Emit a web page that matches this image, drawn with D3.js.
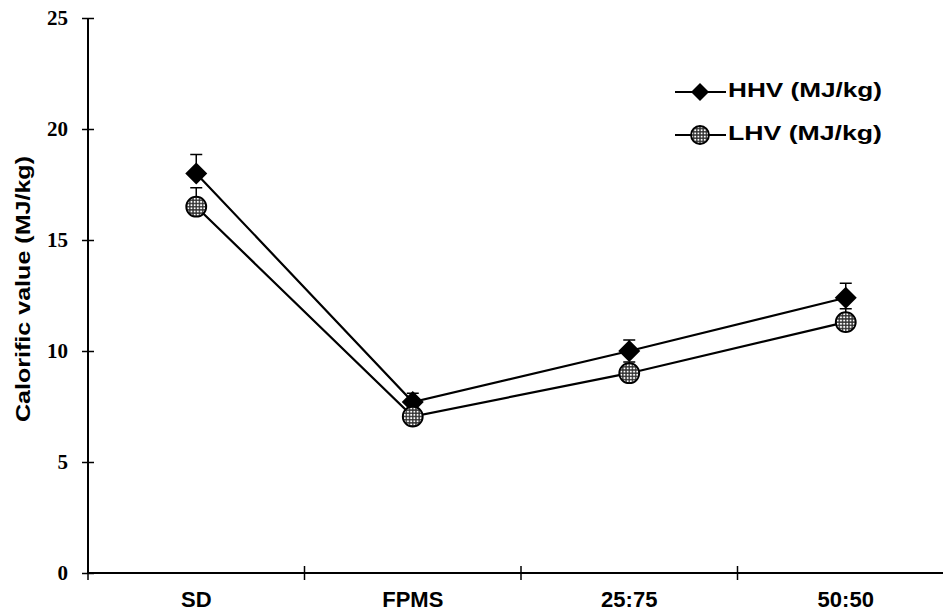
<!DOCTYPE html>
<html>
<head>
<meta charset="utf-8">
<script src="https://cdn.jsdelivr.net/npm/d3@7"></script>
<style>
  body { margin: 0; background: #fff; }
  svg { display: block; }
</style>
</head>
<body>
<svg id="chart"></svg>
<script>
// chart values
var categories = ["SD", "FPMS", "25:75", "50:50"];
var hhv = [18.0, 7.7, 10.0, 12.4];
var hhvErr = [0.85, 0.4, 0.5, 0.65];
var lhv = [16.5, 7.05, 9.0, 11.3];
var lhvErr = [0.85, 0.3, 0.5, 0.6];
var yTicks = [0, 5, 10, 15, 20, 25];

const width = 943, height = 613;
const sans = '"Liberation Sans", Arial, sans-serif';

const svg = d3.select('#chart')
  .attr('width', width)
  .attr('height', height);

// dotted fill for the LHV circles
const defs = svg.append('defs');
const pat = defs.append('pattern')
  .attr('id', 'dots')
  .attr('patternUnits', 'userSpaceOnUse')
  .attr('width', 3.2).attr('height', 3.2);
pat.append('rect').attr('width', 3.2).attr('height', 3.2).attr('fill', '#333');
pat.append('circle').attr('cx', 1.6).attr('cy', 1.6).attr('r', 1.05).attr('fill', '#fff');

const xScale = d3.scaleBand()
  .domain(categories)
  .range([88, 954]);

const yScale = d3.scaleLinear()
  .domain([0, 25])
  .range([573, 18]);

// y axis
const yAxis = svg.append('g')
  .attr('transform', 'translate(88,0)')
  .call(d3.axisLeft(yScale).tickValues(yTicks).tickSize(6).tickSizeOuter(0).tickPadding(14));
yAxis.select('.domain').attr('stroke', '#000').attr('stroke-width', 2).attr('d', 'M0,18V573');
yAxis.selectAll('.tick line').attr('x1', 6).attr('x2', -6).attr('stroke-width', 1.5);
yAxis.selectAll('.tick text')
  .attr('font-family', '"Liberation Serif", "Times New Roman", serif')
  .attr('font-weight', 'bold')
  .attr('font-size', 21)
  .attr('fill', '#000');

// x axis line + boundary ticks
const xg = svg.append('g');
xg.append('line')
  .attr('x1', 88).attr('x2', 943)
  .attr('y1', yScale(0)).attr('y2', yScale(0))
  .attr('stroke', '#000').attr('stroke-width', 2);
xg.selectAll('.xtick')
  .data(categories)
  .enter().append('line')
  .attr('class', 'xtick')
  .attr('x1', d => xScale(d)).attr('x2', d => xScale(d))
  .attr('y1', yScale(0) - 7).attr('y2', yScale(0) + 7)
  .attr('stroke', '#000').attr('stroke-width', 1.5);
xg.selectAll('.xlabel')
  .data(categories)
  .enter().append('text')
  .attr('class', 'xlabel')
  .attr('x', d => xScale(d) + xScale.bandwidth() / 2)
  .attr('y', 607)
  .attr('text-anchor', 'middle')
  .attr('font-family', sans)
  .attr('font-weight', 'bold')
  .attr('font-size', 22)
  .text(d => d);

// y axis title
svg.append('text')
  .attr('transform', 'translate(30,289) rotate(-90)')
  .attr('text-anchor', 'middle')
  .attr('font-family', sans)
  .attr('font-weight', 'bold')
  .attr('font-size', 21)
  .attr('textLength', 266)
  .attr('lengthAdjust', 'spacingAndGlyphs')
  .text('Calorific value (MJ/kg)');

const cx = d => xScale(d) + xScale.bandwidth() / 2;

function drawSeries(vals, errs, shape) {
  const pts = categories.map((c, i) => ({ c: c, v: vals[i], e: errs[i] }));
  const g = svg.append('g');
  // error bars (upper only)
  g.selectAll('.err').data(pts).enter().append('path')
    .attr('d', d => {
      const x = cx(d.c), y0 = yScale(d.v), y1 = yScale(d.v + d.e);
      return `M${x},${y0}V${y1}M${x - 6},${y1}H${x + 6}`;
    })
    .attr('stroke', '#000').attr('stroke-width', 1.5).attr('fill', 'none');
  g.append('path')
    .datum(pts)
    .attr('d', d3.line().x(d => cx(d.c)).y(d => yScale(d.v)))
    .attr('stroke', '#000').attr('stroke-width', 2.2).attr('fill', 'none');
  g.selectAll('.mk').data(pts).enter().append('path')
    .attr('transform', d => `translate(${cx(d.c)},${yScale(d.v)})`)
    .call(shape);
}

function diamond(sel, s) {
  s = s || 11;
  sel.attr('d', `M0,${-s}L${s},0L0,${s}L${-s},0Z`).attr('fill', '#000');
}
function dotted(sel, r) {
  r = r || 10;
  sel.attr('d', d3.arc()({ innerRadius: 0, outerRadius: r, startAngle: 0, endAngle: 2 * Math.PI }))
    .attr('fill', 'url(#dots)').attr('stroke', '#000').attr('stroke-width', 1.8);
}

drawSeries(hhv, hhvErr, s => diamond(s));
drawSeries(lhv, lhvErr, s => dotted(s));

// legend
const legend = [
  { name: 'HHV (MJ/kg)', y: 92, shape: s => diamond(s, 9) },
  { name: 'LHV (MJ/kg)', y: 135, shape: s => dotted(s, 9) }
];
legend.forEach(l => {
  const g = svg.append('g');
  g.append('line').attr('x1', 675).attr('x2', 726).attr('y1', l.y).attr('y2', l.y)
    .attr('stroke', '#000').attr('stroke-width', 2);
  g.append('path').attr('transform', `translate(700,${l.y})`).call(l.shape);
  g.append('text')
    .attr('x', 728).attr('y', l.y + 5)
    .attr('font-family', sans)
    .attr('font-weight', 'bold')
    .attr('font-size', 21)
    .attr('textLength', 154)
    .attr('lengthAdjust', 'spacingAndGlyphs')
    .text(l.name);
});
</script>
</body>
</html>
